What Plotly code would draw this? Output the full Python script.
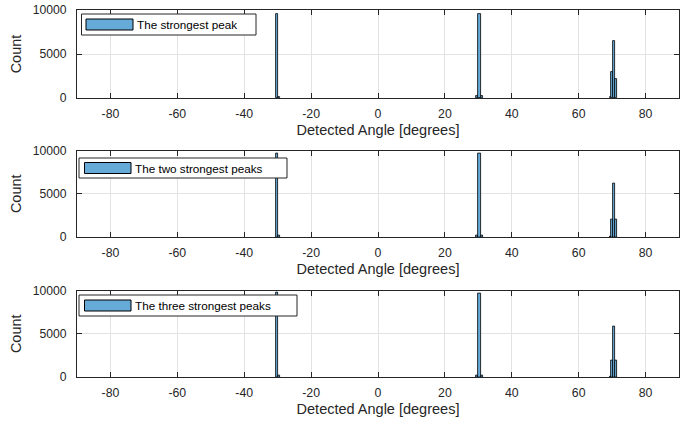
import plotly.graph_objects as go

# ---------------- data (histogram bins: left edge, right edge, count) ----------------
labels = ["The strongest peak", "The two strongest peaks", "The three strongest peaks"]

bin_lo_1 = [-30.4, -29.9, 29.4, 30.0, 30.9, 69.4, 69.8, 70.2, 71.0]
bin_hi_1 = [-29.9, -29.4, 30.0, 30.9, 31.5, 69.8, 70.2, 71.0, 71.6]
count_1 = [9550, 150, 200, 9500, 200, 100, 2950, 6450, 2150]

bin_lo_2 = [-30.4, -29.9, 29.4, 30.0, 30.9, 69.4, 69.8, 70.2, 71.0]
bin_hi_2 = [-29.9, -29.4, 30.0, 30.9, 31.5, 69.8, 70.2, 71.0, 71.6]
count_2 = [9700, 150, 200, 9600, 200, 100, 2000, 6200, 2050]

bin_lo_3 = [-30.4, -29.9, 29.4, 30.0, 30.9, 69.4, 69.8, 70.2, 71.0]
bin_hi_3 = [-29.9, -29.4, 30.0, 30.9, 31.5, 69.8, 70.2, 71.0, 71.6]
count_3 = [9800, 150, 200, 9600, 200, 100, 1950, 5800, 1950]

x_ticks = [-80, -60, -40, -20, 0, 20, 40, 60, 80]
x_tick_text = ["-80", "-60", "-40", "-20", "0", "20", "40", "60", "80"]
y_ticks = [0, 5000, 10000]
y_tick_text = ["0", "5000", "10000"]
x_title = "Detected Angle [degrees]"
y_title = "Count"

# ---------------- styling ----------------
W, H = 697, 422
FONT = "Liberation Sans, Arial, Helvetica, sans-serif"
DARK = "#262626"
GRID = "#e3e3e3"
FACE = "#66AAD7"

def px(x):
    return x / W

def py(y):
    return 1 - y / H

x_dom = [px(77), px(679)]
y_px = [(10, 98), (150.5, 237), (290.5, 377)]
legend_px = [  # box x0,x1,y0,y1 ; patch x0,x1
    (81.5, 256, 14, 35, 86, 133),
    (79, 287, 158, 178, 84.5, 131),
    (79, 297, 295, 316, 84.5, 131),
]

bins = [(bin_lo_1, bin_hi_1, count_1), (bin_lo_2, bin_hi_2, count_2), (bin_lo_3, bin_hi_3, count_3)]

fig = go.Figure()
shapes = []
annotations = []
for i, (lo, hi, cnt) in enumerate(bins):
    sfx = "" if i == 0 else str(i + 1)
    centers = [(a + b) / 2 for a, b in zip(lo, hi)]
    widths = [b - a for a, b in zip(lo, hi)]
    fig.add_trace(go.Bar(
        x=centers, y=cnt, width=widths, name=labels[i],
        marker=dict(color=FACE, line=dict(color="black", width=0.8)),
        xaxis="x" + sfx, yaxis="y" + sfx, showlegend=False,
    ))
    ax = dict(
        domain=x_dom, range=[-90, 90], tickvals=x_ticks, ticktext=x_tick_text,
        ticks="inside", ticklen=5, tickcolor=DARK, tickwidth=1, ticklabelstandoff=4,
        showline=True, linecolor=DARK, linewidth=1, mirror="ticks",
        showgrid=True, gridcolor=GRID, gridwidth=1, zeroline=False,
        tickfont=dict(family=FONT, size=12.3, color=DARK),
        title=dict(text=x_title, font=dict(family=FONT, size=14.5, color=DARK), standoff=5),
        anchor="y" + sfx, automargin=False,
    )
    yt, yb = y_px[i]
    ay = dict(
        domain=[py(yb), py(yt)], range=[0, 10000], tickvals=y_ticks, ticktext=y_tick_text,
        ticks="inside", ticklen=5, tickcolor=DARK, tickwidth=1, ticklabelstandoff=7,
        showline=True, linecolor=DARK, linewidth=1, mirror="ticks",
        showgrid=True, gridcolor=GRID, gridwidth=1, zeroline=False,
        tickfont=dict(family=FONT, size=12.2, color=DARK),
        title=dict(text=y_title, font=dict(family=FONT, size=14.5, color=DARK), standoff=7),
        anchor="x" + sfx, automargin=False,
    )
    fig.layout["xaxis" + sfx] = ax
    fig.layout["yaxis" + sfx] = ay

    bx0, bx1, by0, by1, p0, p1 = legend_px[i]
    shapes.append(dict(type="rect", xref="paper", yref="paper",
                       x0=px(bx0), x1=px(bx1), y0=py(by1), y1=py(by0),
                       fillcolor="white", line=dict(color=DARK, width=1), layer="above"))
    cy = (by0 + by1) / 2
    shapes.append(dict(type="rect", xref="paper", yref="paper",
                       x0=px(p0), x1=px(p1), y0=py(cy + 5.5), y1=py(cy - 5.5),
                       fillcolor=FACE, line=dict(color="black", width=1), layer="above"))
    annotations.append(dict(xref="paper", yref="paper", x=px(p1 + 2), y=py(cy),
                            xanchor="left", yanchor="middle", showarrow=False,
                            text=labels[i], font=dict(family=FONT, size=11.7, color="black")))

fig.update_layout(
    width=W, height=H, margin=dict(l=0, r=0, t=0, b=0),
    paper_bgcolor="white", plot_bgcolor="white",
    bargap=0, shapes=shapes, annotations=annotations,
    font=dict(family=FONT, color=DARK),
)

fig.write_html("out.html")
